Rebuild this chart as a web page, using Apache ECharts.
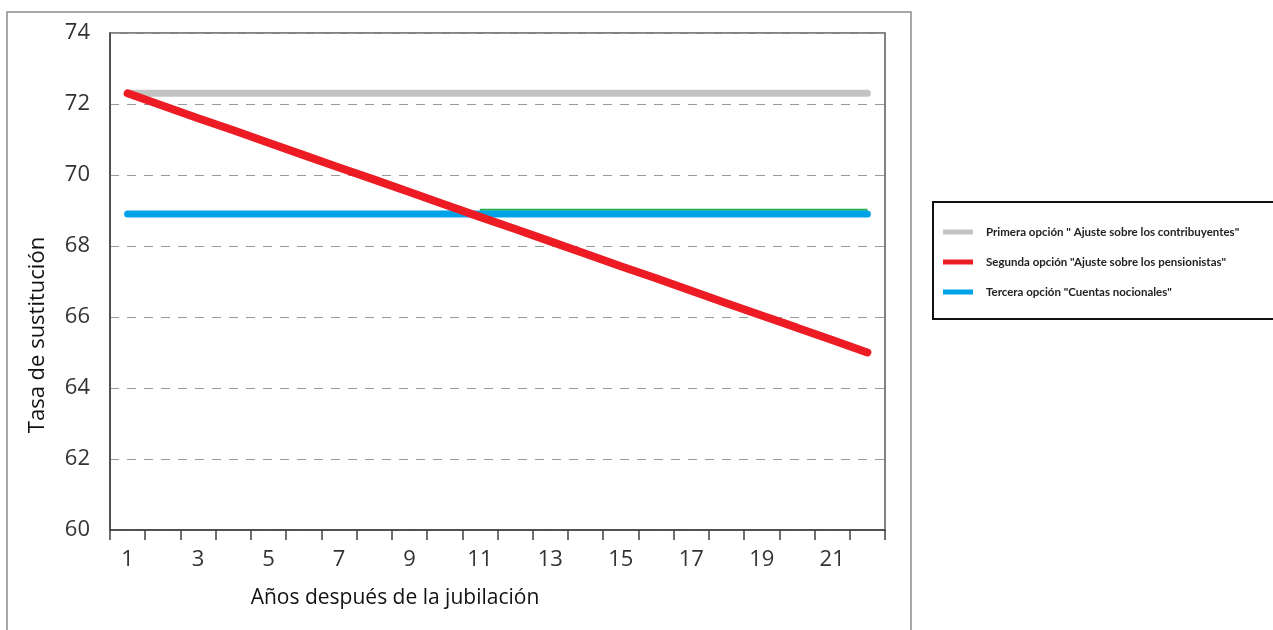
<!DOCTYPE html>
<html>
<head>
<meta charset="utf-8">
<script src="https://cdn.jsdelivr.net/npm/echarts@6/dist/echarts.min.js"></script>
<style>
  html, body { margin: 0; padding: 0; background: #fff; }
  #main { width: 1273px; height: 630px; }
</style>
</head>
<body>
<div id="main"></div>
<script>
// años después de la jubilación
var years = ['1', '2', '3', '4', '5', '6', '7', '8', '9', '10', '11',
    '12', '13', '14', '15', '16', '17', '18', '19', '20', '21', '22'];

// tasa de sustitución por opción
var primera = [72.3, 72.3, 72.3, 72.3, 72.3, 72.3, 72.3, 72.3, 72.3, 72.3, 72.3,
    72.3, 72.3, 72.3, 72.3, 72.3, 72.3, 72.3, 72.3, 72.3, 72.3, 72.3];
var segunda = [72.3, 71.95, 71.6, 71.26, 70.91, 70.56, 70.21, 69.87, 69.52, 69.17, 68.82,
    68.48, 68.13, 67.78, 67.43, 67.09, 66.74, 66.39, 66.04, 65.7, 65.35, 65.0];
var tercera = [68.9, 68.9, 68.9, 68.9, 68.9, 68.9, 68.9, 68.9, 68.9, 68.9, 68.9,
    68.9, 68.9, 68.9, 68.9, 68.9, 68.9, 68.9, 68.9, 68.9, 68.9, 68.9];
// línea verde que asoma bajo la azul
var verde = [null, null, null, null, null, null, null, null, null, null, 69.02,
    69.02, 69.02, 69.02, 69.02, 69.02, 69.02, 69.02, 69.02, 69.02, 69.02, 69.02];

var names = [
    'Primera opción " Ajuste sobre los contribuyentes"',
    'Segunda opción "Ajuste sobre los pensionistas"',
    'Tercera opción "Cuentas nocionales"'
];

var labelFont = 'Open Sans, Lato, sans-serif';

var myChart = echarts.init(document.getElementById('main'));

myChart.setOption({
    animation: false,
    grid: {
        left: 110, top: 33, right: 388, bottom: 100,
        show: true, borderColor: '#595959', borderWidth: 1.5
    },
    legend: {
        orient: 'vertical',
        left: 938, top: 221,
        itemWidth: 30, itemHeight: 5, itemGap: 18,
        icon: 'rect',
        data: names,
        textStyle: { fontSize: 11.5, fontWeight: 'bold', color: '#222', fontFamily: 'Lato, sans-serif', padding: [0, 0, 0, 8] }
    },
    graphic: [
        {
            type: 'rect', silent: true,
            shape: { x: 7, y: 12, width: 904, height: 640 },
            style: { fill: 'none', stroke: '#8c8c8c', lineWidth: 1.5 }
        },
        {
            type: 'rect', silent: true,
            shape: { x: 933, y: 202, width: 345, height: 117 },
            style: { fill: 'none', stroke: '#111', lineWidth: 2 }
        },
        {
            type: 'text', silent: true,
            x: 38, y: 335, rotation: Math.PI / 2,
            style: {
                text: 'Tasa de sustitución', fill: '#111', font: '22px ' + labelFont,
                align: 'center', verticalAlign: 'middle'
            }
        },
        {
            type: 'text', silent: true,
            x: 395, y: 598,
            style: {
                text: 'Años después de la jubilación', fill: '#111', font: '21px ' + labelFont,
                align: 'center', verticalAlign: 'middle'
            }
        }
    ],
    xAxis: {
        type: 'category',
        data: years,
        boundaryGap: true,
        axisLine: { lineStyle: { color: '#404040', width: 1.5 } },
        axisTick: { show: true, interval: 0, length: 10, inside: false, lineStyle: { color: '#404040', width: 1.5 } },
        axisLabel: { interval: 1, margin: 19, fontSize: 22, color: '#333', fontFamily: labelFont },
        splitLine: { show: false }
    },
    yAxis: {
        type: 'value',
        min: 60, max: 74, interval: 2,
        axisLine: { show: true, lineStyle: { color: '#404040', width: 1.5 } },
        axisTick: { show: false },
        axisLabel: { margin: 20, fontSize: 22, color: '#333', fontFamily: labelFont },
        splitLine: { show: true, lineStyle: { color: '#9a9a9a', type: [9, 8], width: 1.2 } }
    },
    series: [
        {
            name: names[0], type: 'line', data: primera, symbol: 'none', z: 2,
            lineStyle: { color: '#c3c3c3', width: 7, cap: 'round' },
            itemStyle: { color: '#c3c3c3' }
        },
        {
            name: 'verde', type: 'line', data: verde, symbol: 'none', z: 2,
            lineStyle: { color: '#22b14c', width: 2 },
            itemStyle: { color: '#22b14c' }
        },
        {
            name: names[2], type: 'line', data: tercera, symbol: 'none', z: 3,
            lineStyle: { color: '#00a2e8', width: 7, cap: 'round' },
            itemStyle: { color: '#00a2e8' }
        },
        {
            name: names[1], type: 'line', data: segunda, symbol: 'none', z: 4,
            lineStyle: { color: '#ed1c24', width: 8, cap: 'round' },
            itemStyle: { color: '#ed1c24' }
        }
    ]
});
</script>
</body>
</html>
